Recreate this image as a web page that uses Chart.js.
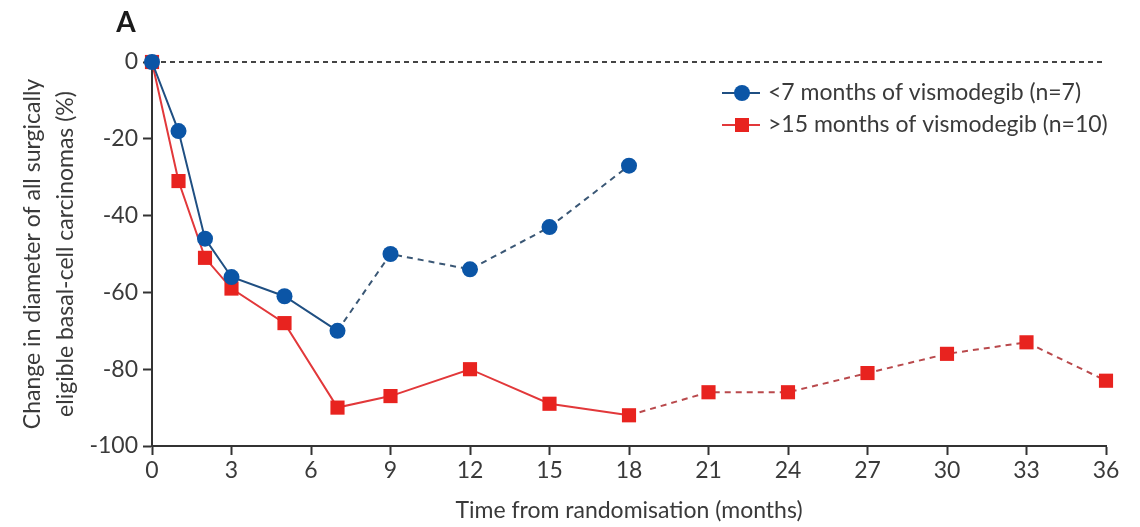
<!DOCTYPE html>
<html>
<head>
<meta charset="utf-8">
<script src="https://cdn.jsdelivr.net/npm/chart.js@4/dist/chart.umd.min.js"></script>
<style>
  html, body { margin: 0; padding: 0; background: #fff; }
  #wrap { width: 1140px; height: 527px; }
</style>
</head>
<body>
<div id="wrap"><canvas id="chart" width="1140" height="527"></canvas></div>
<script>
// data
const blueLabel = '<7 months of vismodegib (n=7)';
const blueMonths = [0, 1, 2, 3, 5, 7, 9, 12, 15, 18];
const blueChange = [0, -18, -46, -56, -61, -70, -50, -54, -43, -27];
const blueSolidUntil = 5; // dashed after month 7

const redLabel = '>15 months of vismodegib (n=10)';
const redMonths = [0, 1, 2, 3, 5, 7, 9, 12, 15, 18, 21, 24, 27, 30, 33, 36];
const redChange = [0, -31, -51, -59, -68, -90, -87, -80, -89, -92, -86, -86, -81, -76, -73, -83];
const redSolidUntil = 9; // dashed after month 18

const xTicks = [0, 3, 6, 9, 12, 15, 18, 21, 24, 27, 30, 33, 36];
const yTicks = [0, -20, -40, -60, -80, -100];

const FONT = 'Lato';
const TEXT = '#3a3a3a';
const AXIS = '#333';

const toPoints = (xs, ys) => xs.map((x, i) => ({ x: x, y: ys[i] }));

// dotted line at zero, panel letter and legend
const extras = {
  id: 'extras',
  beforeDatasetsDraw(chart) {
    const { ctx, chartArea, scales } = chart;
    const y0 = scales.y.getPixelForValue(0);
    ctx.save();
    ctx.strokeStyle = '#444';
    ctx.lineWidth = 2;
    ctx.setLineDash([5, 4]);
    ctx.beginPath();
    ctx.moveTo(chartArea.left, y0);
    ctx.lineTo(chartArea.right, y0);
    ctx.stroke();
    ctx.restore();
  },
  afterDraw(chart) {
    const { ctx, chartArea } = chart;
    ctx.save();
    ctx.fillStyle = '#1a1a1a';
    ctx.font = 'bold 28px ' + FONT;
    ctx.textAlign = 'center';
    ctx.textBaseline = 'middle';
    ctx.fillText('A', chartArea.left - 26, 23);

    const rows = chart.data.datasets;
    const lx = chartArea.right - 384;
    rows.forEach((ds, i) => {
      const y = 93 + i * 32;
      ctx.strokeStyle = ds.borderColor;
      ctx.lineWidth = 2;
      ctx.setLineDash([]);
      ctx.beginPath();
      ctx.moveTo(lx, y);
      ctx.lineTo(lx + 38, y);
      ctx.stroke();
      ctx.fillStyle = ds.pointBackgroundColor;
      if (ds.pointStyle === 'rect') {
        ctx.fillRect(lx + 13, y - 7, 14, 14);
      } else {
        ctx.beginPath();
        ctx.arc(lx + 20, y, 8, 0, Math.PI * 2);
        ctx.fill();
      }
      ctx.fillStyle = TEXT;
      ctx.font = '23px ' + FONT;
      ctx.textAlign = 'left';
      ctx.fillText(ds.label, lx + 46, y);
    });
    ctx.restore();
  }
};

new Chart(document.getElementById('chart'), {
  type: 'line',
  data: {
    datasets: [
      {
        label: blueLabel,
        data: toPoints(blueMonths, blueChange),
        borderColor: '#1f4f82',
        borderWidth: 2,
        pointStyle: 'circle',
        pointRadius: 8,
        pointBackgroundColor: '#0b55a6',
        pointBorderWidth: 0,
        clip: false,
        segment: {
          borderDash: ctx => ctx.p0DataIndex >= blueSolidUntil ? [6, 5] : undefined,
          borderColor: ctx => ctx.p0DataIndex >= blueSolidUntil ? '#3a5775' : undefined
        }
      },
      {
        label: redLabel,
        data: toPoints(redMonths, redChange),
        borderColor: '#e2383a',
        borderWidth: 2,
        pointStyle: 'rect',
        pointRadius: 10,
        pointBackgroundColor: '#e8231f',
        pointBorderWidth: 0,
        clip: false,
        segment: {
          borderDash: ctx => ctx.p0DataIndex >= redSolidUntil ? [6, 5] : undefined,
          borderColor: ctx => ctx.p0DataIndex >= redSolidUntil ? '#b9494c' : undefined
        }
      }
    ]
  },
  options: {
    responsive: false,
    animation: false,
    layout: { padding: { top: 62, right: 34, bottom: 0, left: 0 } },
    plugins: {
      legend: { display: false },
      tooltip: { enabled: false }
    },
    scales: {
      x: {
        type: 'linear',
        min: 0,
        max: 36,
        afterFit: s => { s.height = 81; },
        afterBuildTicks: s => { s.ticks = xTicks.map(v => ({ value: v })); },
        ticks: { color: TEXT, font: { family: FONT, size: 23 }, padding: 2 },
        grid: { drawOnChartArea: false, drawTicks: true, tickLength: 9, tickColor: AXIS, tickWidth: 2 },
        border: { color: AXIS, width: 2 },
        title: {
          display: true,
          text: 'Time from randomisation (months)',
          color: TEXT,
          font: { family: FONT, size: 23 },
          padding: { top: 0, bottom: 3 }
        }
      },
      y: {
        min: -100,
        max: 0,
        afterFit: s => { s.width = 152; },
        afterBuildTicks: s => { s.ticks = yTicks.map(v => ({ value: v })); },
        ticks: { color: TEXT, font: { family: FONT, size: 23 }, padding: 5 },
        grid: { drawOnChartArea: false, drawTicks: true, tickLength: 9, tickColor: AXIS, tickWidth: 2 },
        border: { color: AXIS, width: 2 },
        title: {
          display: true,
          text: ['Change in diameter of all surgically', 'eligible basal-cell carcinomas (%)'],
          color: TEXT,
          font: { family: FONT, size: 23, lineHeight: 1.45 },
          padding: { top: 16, bottom: 0 }
        }
      }
    }
  },
  plugins: [extras]
});
</script>
</body>
</html>
